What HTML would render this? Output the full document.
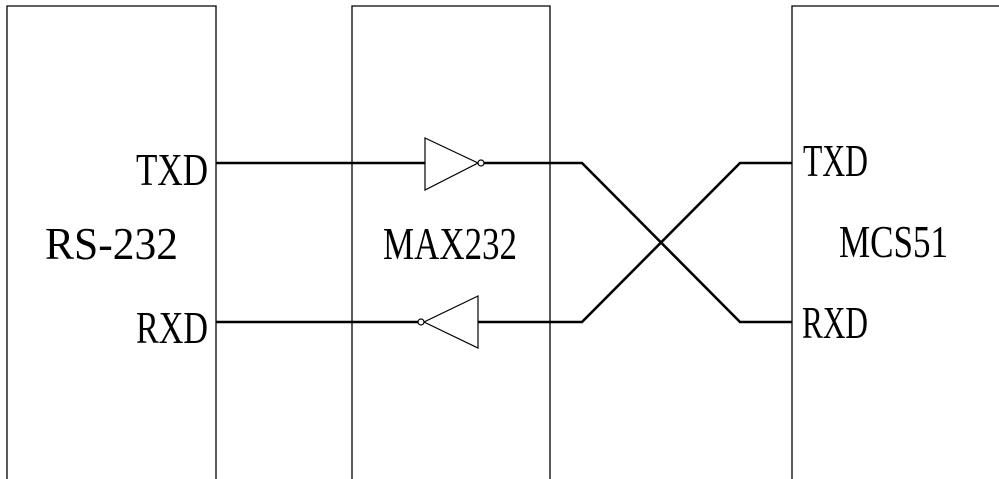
<!DOCTYPE html>
<html><head><meta charset="utf-8"><style>html,body{margin:0;padding:0;background:#fff}svg{display:block}</style></head>
<body>
<svg width="999" height="479" viewBox="0 0 999 479" font-family="'Liberation Serif', serif" fill="#000">
<g fill="none" stroke="#000" stroke-width="1.3">
<path d="M7,479 V6 H216 V479"/>
<path d="M352,479 V6 H550 V479"/>
<path d="M792,479 V6 H1000"/>
</g>
<g fill="none" stroke="#000" stroke-width="2.6" stroke-linejoin="miter">
<path d="M216,163 H425"/>
<path d="M484,163 H582 L740,322 H792"/>
<path d="M216,322 H418"/>
<path d="M478,322 H582 L740,163 H792"/>
</g>
<g fill="#fff" stroke="#000" stroke-width="1.2">
<path d="M425,138 L478,163 L425,190 Z"/>
<circle cx="481" cy="163" r="3"/>
<path d="M478,296 L424,322 L478,348 Z"/>
<circle cx="421" cy="322" r="3"/>
</g>
<g font-size="46">
<text x="136" y="185" textLength="72" lengthAdjust="spacingAndGlyphs">TXD</text>
<text x="45" y="259" textLength="133" lengthAdjust="spacingAndGlyphs">RS-232</text>
<text x="136" y="343" textLength="72" lengthAdjust="spacingAndGlyphs">RXD</text>
<text x="383" y="259" textLength="134" lengthAdjust="spacingAndGlyphs">MAX232</text>
<text x="803" y="176" textLength="65" lengthAdjust="spacingAndGlyphs">TXD</text>
<text x="839" y="257" textLength="109" lengthAdjust="spacingAndGlyphs">MCS51</text>
<text x="802" y="338" textLength="66" lengthAdjust="spacingAndGlyphs">RXD</text>
</g>
</svg>
</body></html>
